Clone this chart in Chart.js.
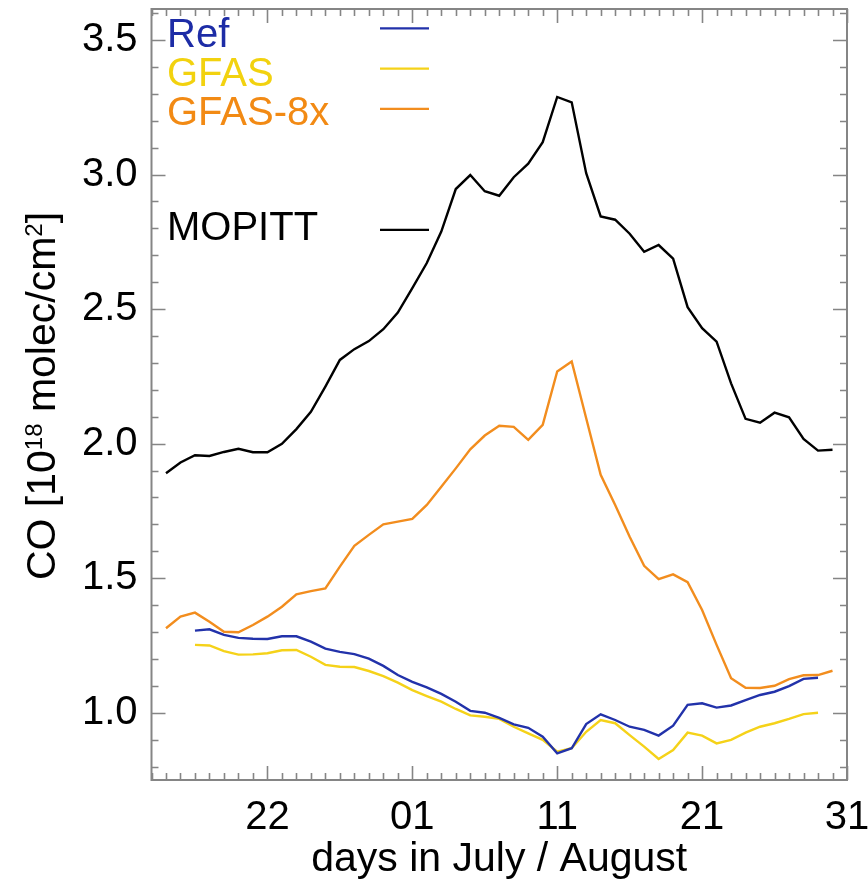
<!DOCTYPE html>
<html>
<head>
<meta charset="utf-8">
<script src="https://cdn.jsdelivr.net/npm/chart.js@4.4.0/dist/chart.umd.min.js"></script>
<style>
html,body{margin:0;padding:0;background:#ffffff;}
#wrap{width:868px;height:886px;position:relative;}
</style>
</head>
<body>
<div id="wrap"><canvas id="c" width="868" height="886"></canvas></div>
<script>
// x = days since 14 July
const xTickDays = [8, 18, 28, 38, 48];
const xTickLabels = ['22', '01', '11', '21', '31'];
const yTicks = [1.0, 1.5, 2.0, 2.5, 3.0, 3.5];

const seriesLabels = ['Ref', 'GFAS', 'GFAS-8x', 'MOPITT'];

const refFirstDay = 3;
const refValues = [1.305, 1.31, 1.289, 1.278, 1.275, 1.274, 1.284, 1.284, 1.264, 1.238,
  1.226, 1.218, 1.201, 1.174, 1.14, 1.115, 1.094, 1.07, 1.041, 1.007,
  1.0, 0.981, 0.957, 0.944, 0.911, 0.849, 0.868, 0.958, 0.994, 0.973,
  0.948, 0.936, 0.915, 0.952, 1.029, 1.035, 1.019, 1.027, 1.047, 1.066,
  1.078, 1.099, 1.126, 1.13];

const gfasFirstDay = 3;
const gfasValues = [1.252, 1.25, 1.229, 1.216, 1.217, 1.221, 1.232, 1.233, 1.208, 1.178,
  1.171, 1.17, 1.155, 1.136, 1.112, 1.084, 1.062, 1.041, 1.014, 0.99,
  0.985, 0.977, 0.948, 0.923, 0.899, 0.855, 0.868, 0.929, 0.973, 0.961,
  0.917, 0.874, 0.828, 0.861, 0.926, 0.915, 0.886, 0.899, 0.926, 0.948,
  0.961, 0.977, 0.995, 1.0];

const gfas8xFirstDay = 1;
const gfas8xValues = [1.314, 1.357, 1.372, 1.338, 1.301, 1.299, 1.326, 1.357, 1.394, 1.44,
  1.452, 1.462, 1.543, 1.62, 1.661, 1.70, 1.71, 1.72, 1.772, 1.84,
  1.908, 1.979, 2.03, 2.066, 2.062, 2.014, 2.07, 2.268, 2.305, 2.094,
  1.884, 1.772, 1.654, 1.546, 1.496, 1.514, 1.485, 1.382, 1.252, 1.128,
  1.093, 1.092, 1.1, 1.125, 1.139, 1.14, 1.156];

const mopittFirstDay = 1;
const mopittValues = [1.89, 1.93, 1.957, 1.954, 1.969, 1.981, 1.968, 1.968, 1.999, 2.054,
  2.118, 2.212, 2.311, 2.351, 2.381, 2.425, 2.487, 2.578, 2.671, 2.788,
  2.946, 2.998, 2.938, 2.921, 2.99, 3.04, 3.12, 3.288, 3.268, 3.005,
  2.844, 2.832, 2.78, 2.713, 2.738, 2.687, 2.507, 2.429, 2.379, 2.224,
  2.092, 2.078, 2.115, 2.098, 2.017, 1.974, 1.977];

function toPoints(first, vals) {
  return vals.map((v, i) => ({ x: first + i, y: v }));
}

const FONT = 'Liberation Sans, Arial, Helvetica, sans-serif';
const COLORS = ['#2232aa', '#f5d219', '#f28d1e', '#000000'];
const TEXTCOLORS = ['#1d2ca6', '#f2d20f', '#f28a14', '#000000'];

const frameTicksPlugin = {
  id: 'frameTicks',
  afterDraw(chart) {
    const ctx = chart.ctx;
    const a = chart.chartArea;
    const xs = chart.scales.x, ys = chart.scales.y;
    ctx.save();
    ctx.strokeStyle = '#858585';
    ctx.lineWidth = 1.6;
    const MAJ = 14, MIN = 7;
    ctx.beginPath();
    for (let d = xs.min; d <= xs.max; d++) {
      const px = Math.round(xs.getPixelForValue(d)) + 0.5;
      const len = xTickDays.includes(d) ? MAJ : MIN;
      ctx.moveTo(px, a.bottom); ctx.lineTo(px, a.bottom - len);
      ctx.moveTo(px, a.top); ctx.lineTo(px, a.top + len);
    }
    for (let k = 8; k <= 36; k++) {
      const v = k / 10;
      const py = Math.round(ys.getPixelForValue(v)) + 0.5;
      const len = (k % 5 === 0) ? MAJ : MIN;
      ctx.moveTo(a.left, py); ctx.lineTo(a.left + len, py);
      ctx.moveTo(a.right, py); ctx.lineTo(a.right - len, py);
    }
    ctx.stroke();
    ctx.lineWidth = 2;
    ctx.strokeRect(a.left, a.top, a.right - a.left, a.bottom - a.top);
    ctx.restore();
  }
};

const legendPlugin = {
  id: 'sideLegend',
  afterDraw(chart, args, opts) {
    const ctx = chart.ctx;
    ctx.save();
    ctx.font = '40px ' + FONT;
    ctx.textBaseline = 'alphabetic';
    ctx.textAlign = 'left';
    chart.data.datasets.forEach((ds, i) => {
      const r = opts.rows[i];
      const ty = opts.textY0 + opts.textStep * r;
      const ly = opts.lineY0 + opts.lineStep * r;
      ctx.fillStyle = TEXTCOLORS[i];
      ctx.fillText(ds.label, opts.textX, ty);
      ctx.strokeStyle = ds.borderColor;
      ctx.lineWidth = 2.2;
      ctx.beginPath();
      ctx.moveTo(opts.lineX0, ly);
      ctx.lineTo(opts.lineX1, ly);
      ctx.stroke();
    });
    ctx.restore();
  }
};

const yTitlePlugin = {
  id: 'yTitle',
  afterDraw(chart, args, opts) {
    const ctx = chart.ctx;
    const a = chart.chartArea;
    const parts = [
      { t: 'CO [10', s: false }, { t: '18', s: true },
      { t: ' molec/cm', s: false }, { t: '2', s: true }, { t: ']', s: false }
    ];
    const big = '41px ' + FONT, small = '24px ' + FONT;
    ctx.save();
    let total = 0;
    parts.forEach(p => { ctx.font = p.s ? small : big; p.w = ctx.measureText(p.t).width; total += p.w; });
    ctx.translate(opts.x, (a.top + a.bottom) / 2 + opts.dy);
    ctx.rotate(-Math.PI / 2);
    ctx.fillStyle = '#000';
    ctx.textBaseline = 'alphabetic';
    ctx.textAlign = 'left';
    let x = -total / 2;
    parts.forEach(p => {
      ctx.font = p.s ? small : big;
      ctx.fillText(p.t, x, p.s ? -13 : 0);
      x += p.w;
    });
    ctx.restore();
  }
};

const datasets = [
  { label: seriesLabels[0], data: toPoints(refFirstDay, refValues), borderColor: COLORS[0] },
  { label: seriesLabels[1], data: toPoints(gfasFirstDay, gfasValues), borderColor: COLORS[1] },
  { label: seriesLabels[2], data: toPoints(gfas8xFirstDay, gfas8xValues), borderColor: COLORS[2] },
  { label: seriesLabels[3], data: toPoints(mopittFirstDay, mopittValues), borderColor: COLORS[3] }
].map(d => Object.assign(d, { borderWidth: 2.4, pointRadius: 0, tension: 0, fill: false }));

function zeroPad(s) { s.paddingTop = 0; s.paddingBottom = 0; s.paddingLeft = 0; s.paddingRight = 0; }

new Chart(document.getElementById('c'), {
  type: 'line',
  data: { datasets },
  plugins: [frameTicksPlugin, legendPlugin, yTitlePlugin],
  options: {
    responsive: false,
    animation: false,
    devicePixelRatio: 1,
    layout: { padding: { left: 0, right: 21, top: 9, bottom: 0 } },
    plugins: {
      legend: { display: false },
      tooltip: { enabled: false },
      sideLegend: { rows: [0, 1, 2, 5], textX: 167, textY0: 47.3, textStep: 38.6,
        lineY0: 28.3, lineStep: 40.3, lineX0: 380, lineX1: 429 },
      yTitle: { x: 55, dy: 1.5 }
    },
    scales: {
      x: {
        type: 'linear', position: 'bottom', min: 0, max: 48,
        grid: { display: false, drawTicks: false },
        border: { display: false },
        afterBuildTicks: s => { s.ticks = xTickDays.map(v => ({ value: v })); },
        afterFit: s => { s.height = 106; zeroPad(s); },
        ticks: {
          autoSkip: false, maxRotation: 0, padding: 14, color: '#000',
          font: { family: FONT, size: 40 },
          callback: v => { const i = xTickDays.indexOf(v); return i >= 0 ? xTickLabels[i] : ''; }
        },
        title: { display: true, text: 'days in July / August', color: '#000',
          font: { family: FONT, size: 41 }, padding: { top: 0, bottom: 2 } }
      },
      y: {
        type: 'linear', position: 'left', min: 0.75, max: 3.615,
        grid: { display: false, drawTicks: false },
        border: { display: false },
        afterBuildTicks: s => { s.ticks = yTicks.map(v => ({ value: v })); },
        afterFit: s => { s.width = 151.5; zeroPad(s); },
        ticks: {
          padding: 14, color: '#000',
          font: { family: FONT, size: 40 },
          callback: v => Number(v).toFixed(1)
        }
      }
    }
  }
});
</script>
</body>
</html>
